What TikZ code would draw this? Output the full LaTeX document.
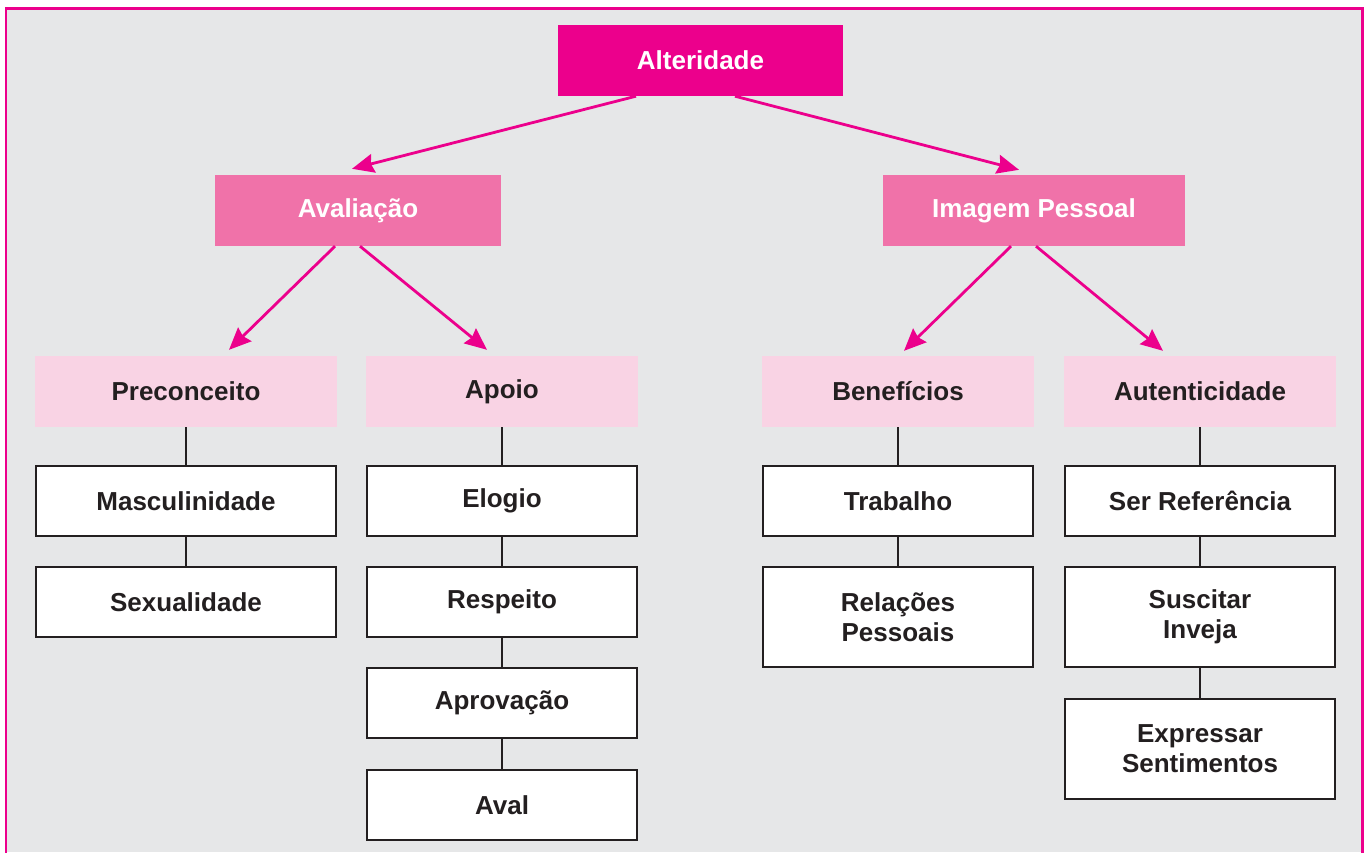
\documentclass[tikz,border=0pt]{standalone}
\usepackage{fontspec}
\setmainfont{Liberation Sans}
\usetikzlibrary{arrows.meta}
\definecolor{bg}{HTML}{E6E7E8}
\definecolor{magent}{HTML}{EC008C}
\definecolor{midpink}{HTML}{F072A9}
\definecolor{lightpink}{HTML}{F9D3E4}
\definecolor{ink}{HTML}{231F20}
\tikzset{
  base/.style={inner sep=0pt, align=center, font=\fontsize{26}{30}\selectfont\bfseries, minimum height=71pt},
  topbox/.style={base, fill=magent, text=white},
  midbox/.style={base, fill=midpink, text=white},
  lowbox/.style={base, fill=lightpink, text=ink},
  leafbox/.style={base, fill=white, draw=ink, line width=2.8pt, text=ink},
  pinkarrow/.style={draw=magent, line width=2.8pt, -{Stealth[length=22pt,width=19pt,inset=2.5pt]}},
  link/.style={draw=ink, line width=2.8pt}
}
\begin{document}
\begin{tikzpicture}[x=1pt,y=-1pt]
\useasboundingbox (0,0) rectangle (1368,852);
\fill[bg] (6,8.5) rectangle (1362.5,852);
\draw[magent, line width=2.8pt] (6,853) -- (6,8.5) -- (1362.5,8.5) -- (1362.5,853);

\node[topbox, minimum width=285pt] (alt) at (700.5,60.5) {Alteridade};
\node[midbox, minimum width=286pt] (aval) at (358,210.5) {Avaliação};
\node[midbox, minimum width=302pt] (img) at (1034,210.5) {Imagem Pessoal};

\node[lowbox, minimum width=302pt] (prec) at (186,391.5) {Preconceito};
\node[lowbox, minimum width=272pt] (apoio) at (502,391.5) {Apoio};
\node[lowbox, minimum width=272pt] (benef) at (898,391.5) {Benefícios};
\node[lowbox, minimum width=272pt] (autent) at (1200,391.5) {Autenticidade};

\node[leafbox, minimum width=300pt, minimum height=70pt] (masc) at (186,501) {Masculinidade};
\node[leafbox, minimum width=300pt, minimum height=70pt] (sexu) at (186,602) {Sexualidade};

\node[leafbox, minimum width=270pt, minimum height=70pt] (elog) at (502,501) {Elogio};
\node[leafbox, minimum width=270pt, minimum height=70pt] (resp) at (502,602) {Respeito};
\node[leafbox, minimum width=270pt, minimum height=70pt] (aprov) at (502,703) {Aprovação};
\node[leafbox, minimum width=270pt, minimum height=70pt] (avall) at (502,805) {Aval};

\node[leafbox, minimum width=270pt, minimum height=70pt] (trab) at (898,501) {Trabalho};
\node[leafbox, minimum width=270pt, minimum height=100pt] (relac) at (898,617) {Relações\\Pessoais};

\node[leafbox, minimum width=270pt, minimum height=70pt] (serref) at (1200,501) {Ser Referência};
\node[leafbox, minimum width=270pt, minimum height=100pt] (susc) at (1200,617) {Suscitar\\Inveja};
\node[leafbox, minimum width=270pt, minimum height=100pt] (expr) at (1200,749) {Expressar\\Sentimentos};

% pink arrows
\draw[pinkarrow] ([xshift=-64.5pt]alt.south) -- ([xshift=-6pt,yshift=6pt]aval.north);
\draw[pinkarrow] ([xshift=34.5pt]alt.south) -- ([xshift=-15pt,yshift=5pt]img.north);
\draw[pinkarrow] ([xshift=-23pt]aval.south) -- ([xshift=43pt,yshift=6pt]prec.north);
\draw[pinkarrow] ([xshift=2pt]aval.south) -- ([xshift=-15pt,yshift=6pt]apoio.north);
\draw[pinkarrow] ([xshift=-23pt]img.south) -- ([xshift=6pt,yshift=5pt]benef.north);
\draw[pinkarrow] ([xshift=2pt]img.south) -- ([xshift=-37pt,yshift=5pt]autent.north);

% dark links
\draw[link] (prec.south) -- (masc.north);
\draw[link] (masc.south) -- (sexu.north);
\draw[link] (apoio.south) -- (elog.north);
\draw[link] (elog.south) -- (resp.north);
\draw[link] (resp.south) -- (aprov.north);
\draw[link] (aprov.south) -- (avall.north);
\draw[link] (benef.south) -- (trab.north);
\draw[link] (trab.south) -- (relac.north);
\draw[link] (autent.south) -- (serref.north);
\draw[link] (serref.south) -- (susc.north);
\draw[link] (susc.south) -- (expr.north);
\end{tikzpicture}
\end{document}
